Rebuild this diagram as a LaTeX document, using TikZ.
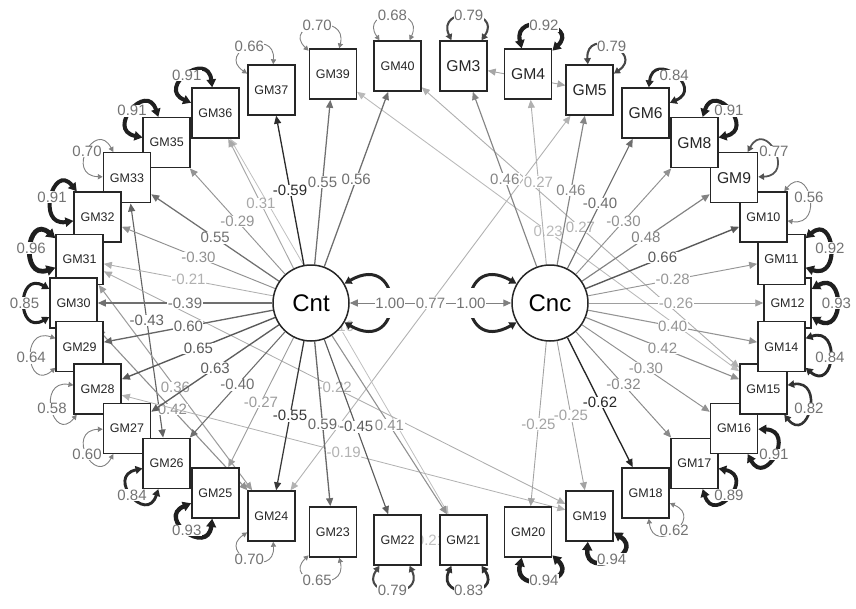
\documentclass[tikz,border=0pt]{standalone}
\usepackage{fontspec}
\setmainfont{Liberation Sans}
\usepackage{graphicx}
\usetikzlibrary{arrows.meta,backgrounds}

% grey level and width of an edge from its value
\newcommand{\edgeshade}[1]{%
  \pgfmathtruncatemacro\ecol{#1<0 ? 30+55*min(1,max(0,(abs(#1)-0.2)/0.4)) : 25+40*min(1,max(0,(#1-0.2)/0.45))}%
  \pgfmathsetmacro\ewid{0.6+1.2*abs(#1)}}

\tikzset{
  item/.style={draw=black!85, line width=1.5pt, fill=white, minimum width=47pt, minimum height=50pt, inner sep=0pt, text=black!85},
  latent/.style={circle, draw=black!85, line width=1.5pt, fill=white, minimum size=76pt, inner sep=0pt, font=\fontsize{24}{24}\selectfont},
  load/.style={-{Triangle[length=8pt,width=7pt]}},
  covar/.style={{Triangle[length=8pt,width=7pt]}-{Triangle[length=8pt,width=7pt]}},
  resid/.style={{Triangle[length=4pt 1,width=4pt 1.3]}-{Triangle[length=4pt 1,width=4pt 1.3]}},
  lab/.style={fill=white, inner sep=0.5pt, font=\fontsize{15}{15}\selectfont},
}

\begin{document}
\begin{tikzpicture}[x=1pt,y=1pt]
  \useasboundingbox (0,0) rectangle (856,-608);
  % items round the ellipse
  \foreach \n [count=\k from 0] in {GM12,GM11,GM10,GM9,GM8,GM6,GM5,GM4,GM3,GM40,GM39,GM37,GM36,GM35,GM33,GM32,GM31,GM30,GM29,GM28,GM27,GM26,GM25,GM24,GM23,GM22,GM21,GM20,GM19,GM18,GM17,GM16,GM15,GM14}
    \node[item] (\n) at ({430.5+357*cos(\k*360/34)},{-303+238*sin(\k*360/34)}) {\resizebox{34pt}{!}{\n}};
  \node[latent] (Cnt) at (311,-303) {Cnt};
  \node[latent] (Cnc) at (550,-303) {Cnc};

  \begin{scope}[on background layer]
    % residual covariances
    \draw[covar, draw=black!35, line width=0.9pt] (GM3) -- (GM5);
    \draw[covar, draw=black!30, line width=0.9pt] (GM5) -- (GM24);
    \foreach \a/\b/\v in {GM39/GM15/0.23, GM40/GM15/0.27, GM36/GM21/0.16, GM33/GM26/-0.43, GM31/GM24/0.36, GM30/GM24/0.42, GM31/GM19/-0.22, GM28/GM19/-0.19, GM22/GM21/0.21}{
      \edgeshade{\v}
      \draw[covar, draw=black!\ecol, line width=\ewid pt] (\a) -- (\b) node[lab, midway, text=black!\ecol] (c\a\b) {\v};
    }
    % loadings
    \foreach \t/\v in {GM40/0.56, GM39/0.55, GM37/-0.59, GM36/0.31, GM35/-0.29, GM33/0.55, GM32/-0.30, GM31/-0.21, GM30/-0.39, GM29/0.60, GM28/0.65, GM27/0.63, GM26/-0.40, GM25/-0.27, GM24/-0.55, GM23/0.59, GM22/-0.45, GM21/0.41}{
      \edgeshade{\v}
      \draw[load, draw=black!\ecol, line width=\ewid pt] (Cnt) -- (\t) node[lab, midway, text=black!\ecol] (l\t) {\v};
    }
    \foreach \t/\v in {GM3/0.46, GM4/0.27, GM5/0.46, GM6/-0.40, GM8/-0.30, GM9/0.48, GM10/0.66, GM11/-0.28, GM12/-0.26, GM14/0.40, GM15/0.42, GM16/-0.30, GM17/-0.32, GM18/-0.62, GM19/-0.25, GM20/-0.25}{
      \edgeshade{\v}
      \draw[load, draw=black!\ecol, line width=\ewid pt] (Cnc) -- (\t) node[lab, midway, text=black!\ecol] (l\t) {\v};
    }
    % factor covariance and variances
    \draw[covar, draw=black!50, line width=1pt] (Cnt) -- (Cnc) node[lab, midway, text=black!50] (cf) {0.77};
    \draw[resid, draw=black!85, line width=3pt] (Cnt.30) .. controls +(30:70) and +(-30:70) .. (Cnt.-30) node[lab, midway, inner ysep=10pt, text=black!55] (vCnt) {1.00};
    \draw[resid, draw=black!85, line width=3pt] (Cnc.150) .. controls +(150:70) and +(210:70) .. (Cnc.210) node[lab, midway, inner ysep=10pt, text=black!55] (vCnc) {1.00};
    % residual variances
    \foreach \n/\v [count=\k from 0] in {GM12/0.93, GM11/0.92, GM10/0.56, GM9/0.77, GM8/0.91, GM6/0.84, GM5/0.79, GM4/0.92, GM3/0.79, GM40/0.68, GM39/0.70, GM37/0.66, GM36/0.91, GM35/0.91, GM33/0.70, GM32/0.91, GM31/0.96, GM30/0.85, GM29/0.64, GM28/0.58, GM27/0.60, GM26/0.84, GM25/0.93, GM24/0.70, GM23/0.65, GM22/0.79, GM21/0.83, GM20/0.94, GM19/0.94, GM18/0.62, GM17/0.89, GM16/0.91, GM15/0.82, GM14/0.84}{
      \pgfmathtruncatemacro\angl{mod(round(\k*360/34)+30,360)}
      \pgfmathtruncatemacro\angr{mod(round(\k*360/34)+330,360)}
      \pgfmathsetmacro\rw{max(0.9,(\v-0.66)*16)}
      \pgfmathtruncatemacro\rc{min(88,max(50,(\v-0.5)*250))}
      \draw[resid, draw=black!\rc, line width=\rw pt] (\n.\angl) .. controls +(\angl:38) and +(\angr:38) .. (\n.\angr) node[lab, midway, text=black!55] (r\n) {\v};
    }
  \end{scope}
\end{tikzpicture}
\end{document}
